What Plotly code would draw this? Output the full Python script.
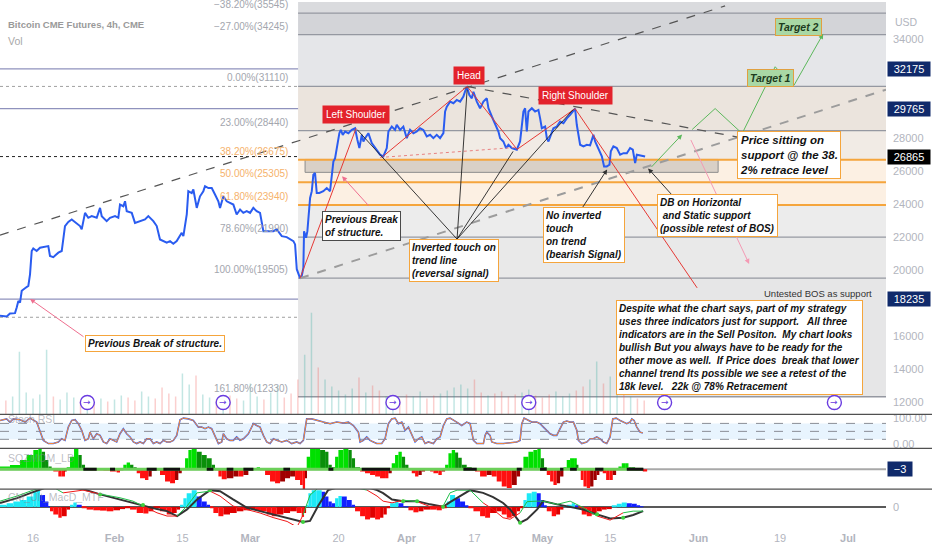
import numpy as np
import plotly.graph_objects as go

BASE = "2023-01-16"


def bday(d):
    """trading-day index (business days since 2023-01-16)"""
    return float(np.busday_count(BASE, d))


# ---------------------------------------------------------------- data
tick_dates = ["2023-01-16", "2023-02-01", "2023-02-15", "2023-03-01", "2023-03-20", "2023-04-03",
              "2023-04-17", "2023-05-01", "2023-05-15", "2023-06-01", "2023-06-19", "2023-07-03"]
tick_labels = ["16", "<b>Feb</b>", "15", "<b>Mar</b>", "20", "<b>Apr</b>", "17", "<b>May</b>", "15",
               "<b>Jun</b>", "19", "<b>Jul</b>"]
rollover_dates = ["2023-01-26", "2023-02-23", "2023-03-30", "2023-04-27", "2023-05-25", "2023-06-29"]

# price (x = trading days since 2023-01-16, 4h closes)
price_t = [-4.86, -3.87, -3.39, -2.65, -2.40, -2.16, -1.91, -1.66, -1.18, -0.69,
           -0.44, -0.19, 0.04, 0.54, 1.03, 1.77, 2.25, 2.50, 2.99, 3.73,
           4.23, 4.71, 5.20, 5.70, 6.44, 6.92, 7.17, 7.66, 8.14, 8.64,
           9.38, 9.87, 10.12, 10.85, 11.34, 12.08, 12.56, 12.81, 13.30, 13.55,
           13.80, 14.54, 15.02, 15.76, 16.49, 16.98, 17.72, 18.22, 18.70, 19.69,
           20.18, 20.66, 21.16, 21.90, 22.14, 22.64, 22.87, 23.37, 23.61, 24.11,
           24.59, 25.08, 25.33, 25.82, 26.32, 26.80, 27.29, 27.54, 28.03, 28.53,
           29.01, 29.50, 29.99, 30.49, 30.97, 31.47, 31.96, 32.44, 32.94, 33.43,
           33.92, 34.42, 35.39, 35.89, 36.63, 37.36, 38.34, 38.59, 38.84, 39.32,
           39.57, 39.81, 39.91, 40.21, 40.40, 40.80, 41.05, 41.28, 41.53, 41.78,
           42.16, 42.75, 43.25, 43.74, 43.99, 44.23, 44.48, 44.73, 45.11, 45.32,
           45.61, 45.95, 46.44, 46.94, 47.42, 47.76, 48.06, 48.41, 48.65, 48.90,
           49.38, 49.88, 50.37, 51.10, 51.59, 52.09, 52.33, 52.83, 53.31, 53.56,
           54.05, 54.53, 55.03, 55.52, 56.01, 56.51, 56.99, 57.48, 57.98, 58.47,
           58.95, 59.45, 59.94, 60.43, 60.68, 60.93, 61.41, 61.90, 62.40, 62.89,
           63.37, 63.87, 64.25, 64.61, 64.85, 65.35, 65.83, 66.32, 66.82, 67.06,
           67.56, 68.04, 68.53, 68.78, 69.26, 69.66, 70.00, 70.50, 71.24, 71.72,
           71.97, 72.21, 72.46, 72.71, 72.95, 73.45, 73.93, 74.42, 74.67, 74.92,
           75.41, 75.66, 75.90, 76.14, 76.63, 77.13, 77.61, 78.10, 78.60, 79.09,
           79.57, 79.82, 80.07, 80.31, 80.56, 81.05, 81.55, 82.03, 82.52, 82.77,
           83.26, 83.76, 84.09, 84.49, 84.88, 85.08, 85.46, 85.96, 86.45, 86.94,
           87.44, 87.92, 88.32, 88.66, 88.91, 89.40, 89.88, 90.13]
price_close = [17230, 17190, 17370, 17390, 17730, 18130, 18030, 18740, 18900, 19040,
               19740, 21150, 21310, 21150, 21350, 21390, 21450, 20850, 20780, 21050,
               21150, 22660, 22910, 23060, 22850, 22660, 22460, 23460, 23160, 23260,
               23160, 23760, 23260, 22960, 23160, 23260, 23160, 23960, 23860, 24160,
               23560, 23460, 22850, 22960, 23060, 23260, 22960, 22660, 21850, 21650,
               21750, 21590, 21750, 22250, 22050, 23360, 24770, 24660, 24870, 23760,
               24460, 24770, 25070, 24960, 24960, 24570, 24160, 23760, 24460, 24160,
               24060, 23960, 23360, 23660, 23460, 23560, 23460, 23760, 23560, 23460,
               22350, 22350, 22350, 22460, 22050, 21990, 21750, 21550, 20050, 19505,
               19640, 20140, 22350, 21950, 22350, 24360, 24770, 25770, 25870, 24660,
               24660, 24770, 24960, 24770, 25570, 26570, 26770, 27380, 28280, 28480,
               28180, 28380, 28280, 28480, 28580, 27880, 27380, 28180, 27780, 27980,
               28280, 27680, 27380, 26980, 26880, 27380, 28380, 28680, 28480, 28790,
               28480, 28680, 27980, 28480, 28280, 28380, 28580, 28480, 28080, 28180,
               27980, 28180, 27980, 28280, 29590, 29890, 30190, 30090, 30290, 30190,
               30490, 31110, 30590, 30390, 30790, 30190, 29790, 30190, 30390, 29790,
               29290, 28790, 28380, 27980, 27780, 27380, 27580, 27380, 27280, 27780,
               28580, 29590, 29790, 28380, 29590, 29790, 29590, 29690, 29180, 28580,
               28680, 27980, 27780, 28080, 28580, 28680, 28980, 28880, 29180, 29390,
               29690, 29765, 28790, 28180, 27580, 27480, 27580, 27540, 28180, 27780,
               27380, 26880, 26270, 26270, 26370, 27180, 27480, 27380, 26980, 27070,
               27070, 27380, 27280, 26470, 26980, 26930, 26880, 26865]
last_price = 26865

# volume (one bar per trading day, relative units)
vol_t = list(range(-4, 91))
vol_v = [14, 18, 63, 22, 16, 20, 65, 18, 15, 22, 17, 14, 19, 11, 16, 13, 15, 19, 17, 14,
         23, 18, 16, 27, 21, 18, 41, 30, 39, 20, 17, 15, 18, 19, 16, 14, 31, 18, 15, 22,
         29, 17, 21, 35, 60, 102, 47, 35, 28, 24, 20, 26, 37, 22, 29, 24, 18, 17, 15, 20,
         18, 23, 16, 19, 21, 24, 27, 30, 26, 35, 22, 19, 21, 23, 18, 20, 22, 25, 19, 17,
         20, 23, 18, 21, 24, 28, 35, 53, 31, 38, 43, 25, 18, 16, 14]

# Fibonacci retracement (high 31110 / low 19505)
fib_ratios = [-0.382, -0.27, 0.0, 0.23, 0.382, 0.5, 0.618, 0.786, 1.0, 1.618]
fib_prices = [35545, 34245, 31110, 28440, 26675, 25305, 23940, 21990, 19505, 12330]
fib_orange = [False, False, False, False, True, True, True, False, False, False]
fib_fill = ["#d3d4d8", "#e5e6e9", "#ebe4dd", "#f1ebe5", "#fcf0e3", "#fcf0e3",
            "#ececec", "#e9e9e9", "#e6e6e7"]
fib_start_t = 39.03

key_levels = [32175, 29765, 18235]          # solid horizontal lines
dotted_levels = [31110, 17140]
axis_ticks = [34000, 28000, 26000, 24000, 22000, 20000, 16000, 14000, 12000]

support_zone = dict(t0=40.06, t1=100.88, p0=25910, p1=26690)

# drawings (trading-day index, price)
pattern_a = [(39.32, 19505), (47.57, 28580)]
pattern_b = [(51.55, 26880), (63.92, 31110), (71.28, 27300), (79.82, 29765), (97.79, 18920)]
pointer_from = (62.44, 21870)
pointer_to = [(47.72, 28500), (63.92, 30910), (70.69, 27180), (79.53, 29710)]
upper_dash = [(-4.86, 22110), (101.91, 35980)]
channel_dash = [(39.32, 19505), (125.6, 30910)]
neck_dash = [(63.92, 31110), (104.86, 27960)]
red_dotted = [(51.10, 26810), (71.13, 27420)]
green_path = [(97.05, 28500), (100.44, 29770), (104.42, 28260), (109.28, 32300), (111.93, 31090)]
arrows = [  # tail_t, tail_p, head_t, head_p, colour
    (7.66, 15900, -0.44, 18250, "#ef6f8f"),
    (49.63, 23800, 45.51, 25670, "#ef6f8f"),
    (96.76, 27960, 105.45, 20370, "#f49ab4"),
    (80.56, 23560, 84.54, 26090, "#333333"),
    (94.26, 24460, 90.57, 26150, "#333333"),
    (90.87, 26150, 95.58, 28200, "#5cb85c"),
    (111.93, 31090, 116.35, 34290, "#5cb85c"),
]

# Stoch RSI (t, value)
stoch_pts = [(-4.86, 91), (-3.88, 97), (-3.39, 85), (-2.90, 97), (-1.91, 94), (-1.18, 85), (-0.44, 100),
             (0.05, 94), (0.54, 85), (1.52, 16), (2.26, 4), (2.99, 4), (3.73, 10), (4.22, 22), (4.71, 16),
             (5.20, 66), (5.70, 91), (6.19, 94), (6.68, 79), (7.17, 54), (7.66, 16), (8.15, 22), (8.39, 47),
             (8.89, 22), (9.38, 41), (9.87, 35), (10.36, 10), (10.85, 4), (11.34, 22), (11.83, 16),
             (12.32, 10), (12.81, 41), (13.30, 60), (13.79, 41), (14.29, 29), (14.78, 10), (15.27, 4),
             (15.76, 10), (16.25, 4), (16.74, 22), (17.23, 22), (17.72, 4), (18.21, 10), (18.70, 4),
             (19.20, 16), (19.69, 10), (20.18, 10), (20.67, 16), (21.16, 35), (21.65, 94), (22.14, 100),
             (22.88, 97), (23.61, 91), (24.35, 66), (24.84, 66), (25.33, 60), (25.82, 66), (26.31, 60),
             (26.80, 29), (27.30, 4), (27.79, 10), (28.03, 41), (28.52, 22), (29.01, 16), (29.50, 16),
             (29.99, 29), (30.49, 16), (30.98, 22), (31.71, 41), (32.45, 79), (32.94, 72), (33.43, 66),
             (33.92, 35), (34.41, 10), (34.90, 4), (35.40, 22), (35.89, 16), (36.62, 10), (37.36, 16),
             (38.10, 4), (38.83, 10), (39.32, 4), (39.81, 16), (40.30, 97), (41.04, 97), (41.78, 91),
             (42.76, 85), (43.74, 79), (44.72, 85), (45.70, 81), (46.44, 85), (47.18, 72), (47.91, 47),
             (48.16, 10), (48.65, 16), (49.14, 29), (49.63, 16), (50.12, 10), (50.61, 4), (51.35, 4),
             (51.84, 22), (52.33, 79), (52.82, 97), (53.31, 100), (53.81, 79), (54.30, 85), (54.79, 54),
             (55.28, 66), (55.77, 41), (56.26, 10), (56.75, 22), (57.24, 29), (57.73, 4), (58.22, 10),
             (58.96, 4), (59.45, 22), (59.94, 29), (60.43, 72), (60.92, 97), (61.41, 100), (62.39, 85),
             (63.13, 72), (63.86, 85), (64.36, 79), (64.85, 16), (65.34, 4), (66.32, 4), (66.57, 35),
             (66.81, 47), (67.30, 35), (67.55, 10), (68.28, 4), (69.27, 4), (70.25, 6), (71.23, 10),
             (71.72, 16), (71.97, 79), (72.31, 100), (72.70, 94), (73.44, 85), (74.17, 85), (74.66, 79),
             (75.16, 66), (75.65, 54), (76.14, 41), (76.63, 35), (77.12, 35), (77.61, 60), (78.10, 85),
             (78.59, 89), (79.08, 85), (79.57, 85), (80.07, 54), (80.31, 16), (80.80, 4), (81.54, 10),
             (82.03, 22), (82.52, 22), (83.01, 29), (83.50, 22), (83.99, 10), (84.48, 4), (84.97, 29),
             (85.37, 97), (85.86, 100), (86.45, 91), (86.94, 85), (87.43, 79), (87.92, 85), (88.17, 97),
             (88.51, 91), (88.90, 66), (89.39, 47), (89.79, 44)]

# Squeeze momentum histogram (t, value)
sqz_pts = [(-4.86, 13), (-3.39, 20), (-1.91, 44), (-0.93, 68), (0.05, 92), (0.79, 100), (1.28, 84),
           (1.77, 44), (2.26, 13), (2.75, 1), (2.99, -11), (3.73, -35), (4.22, -35), (4.71, -11),
           (4.96, 5), (5.45, 60), (6.04, 100), (6.68, 68), (7.17, 21), (7.66, 1), (8.39, -1), (9.38, -3),
           (10.36, -6), (11.34, -11), (12.32, -16), (12.81, -3), (13.30, 21), (13.79, 32), (14.29, 21),
           (14.78, 5), (15.27, -19), (15.76, -43), (16.49, -51), (16.99, -35), (17.48, -6), (17.97, -3),
           (18.70, -27), (19.44, -59), (20.18, -67), (20.91, -51), (21.40, -19), (21.90, 2), (22.39, 52),
           (22.88, 92), (23.37, 100), (24.10, 84), (24.84, 68), (25.58, 52), (26.31, 21), (26.80, -2),
           (27.30, -35), (27.79, -48), (28.52, -43), (29.50, -35), (30.24, -35), (30.98, -27),
           (31.71, -6), (32.45, 2), (32.94, 10), (33.43, -2), (34.17, -27), (34.90, -59), (35.64, -67),
           (36.38, -59), (37.11, -43), (37.85, -35), (38.59, -51), (39.32, -75), (39.72, -95),
           (40.06, -43), (40.30, 60), (40.80, 100), (41.53, 100), (42.27, 92), (43.01, 84), (43.50, 21),
           (43.99, 5), (44.48, 60), (44.97, 92), (45.70, 100), (46.44, 92), (46.93, 52), (47.42, 10),
           (48.16, -11), (48.89, -19), (49.63, -27), (50.37, -35), (51.10, -43), (51.84, -43),
           (52.33, -19), (52.82, 29), (53.31, 68), (53.81, 84), (54.30, 60), (54.79, 21), (55.28, -2),
           (55.77, -19), (56.26, -35), (56.75, -27), (57.24, -11), (57.73, -3), (58.47, -11),
           (58.96, -19), (59.69, -27), (60.19, -11), (60.68, 21), (61.17, 76), (61.66, 92), (62.15, 80),
           (62.60, 55), (63.13, 21), (63.86, 10), (64.60, -2), (65.09, -11), (65.83, -35), (66.81, -27),
           (67.55, -35), (68.28, -59), (69.02, -83), (69.76, -90), (70.49, -75), (71.23, -35),
           (71.72, 3), (72.21, 60), (72.95, 84), (73.68, 92), (74.27, 100), (74.76, 52), (75.25, 10),
           (75.65, -27), (76.14, -59), (76.63, -75), (77.12, -67), (77.61, -35), (78.10, 10),
           (78.59, 44), (79.08, 52), (79.67, 52), (80.07, 21), (80.31, -3), (80.65, -51), (81.05, -83),
           (81.54, -90), (82.03, -83), (82.52, -51), (83.01, -27), (83.40, -11), (83.89, -19),
           (84.39, -51), (84.88, -51), (85.37, -27), (85.86, 2), (86.20, 13), (86.69, 29), (87.19, 29),
           (87.68, 10), (88.17, 5), (88.66, -1), (89.15, -3), (89.79, -11)]
squeeze_on = [(7.41, 9.38), (11.34, 12.08), (16.74, 18.21), (19.20, 21.65), (25.58, 26.56),
              (28.52, 29.50), (30.98, 32.45), (36.87, 37.85), (43.50, 44.23), (48.40, 52.58),
              (63.37, 65.34), (71.23, 71.97), (74.66, 75.65), (77.61, 78.10), (79.08, 80.07),
              (82.77, 83.99), (87.43, 89.88)]

# MACD histogram (t, value)
macd_hist_pts = [(-4.86, 13), (-3.88, 23), (-2.90, 33), (-1.91, 42), (-0.93, 62), (0.05, 90), (0.54, 100),
                 (1.03, 71), (1.77, 33), (2.26, 1), (2.50, -25), (2.99, -44), (3.73, -63), (4.22, -54),
                 (4.96, -15), (5.45, 13), (5.94, 27), (6.43, 13), (7.17, -6), (7.90, -15), (8.89, -19),
                 (9.87, -21), (10.85, -25), (11.83, -19), (12.81, -12), (13.55, -6), (14.29, -15),
                 (15.27, -35), (16.25, -38), (16.99, -25), (17.72, -6), (18.70, -25), (19.69, -44),
                 (20.42, -35), (21.16, -15), (21.65, 13), (22.14, 52), (22.63, 81), (23.37, 100),
                 (24.10, 62), (24.84, 33), (25.58, 13), (26.07, -1), (26.56, -35), (27.30, -54),
                 (28.03, -44), (29.01, -35), (29.99, -25), (30.98, -19), (31.96, -12), (32.70, -19),
                 (33.43, -25), (34.41, -44), (35.15, -54), (35.89, -44), (36.87, -35), (37.85, -25),
                 (38.83, -35), (39.57, -58), (39.91, -35), (40.21, 13), (40.55, 81), (41.04, 100),
                 (41.78, 100), (42.51, 90), (43.01, 62), (43.50, 33), (43.99, 23), (44.48, 52),
                 (44.97, 65), (45.46, 62), (46.20, 42), (46.93, 13), (47.42, -25), (48.16, -54),
                 (48.89, -73), (49.63, -63), (50.37, -73), (51.10, -63), (51.59, -44), (52.09, -6),
                 (52.58, 23), (53.31, 33), (53.81, 23), (54.54, 4), (55.28, -19), (56.01, -31),
                 (56.75, -25), (57.49, -15), (58.47, -15), (59.45, -19), (60.19, -6), (60.92, 33),
                 (61.41, 71), (62.15, 52), (62.88, 33), (63.62, 8), (64.11, -6), (64.85, -25),
                 (65.83, -54), (66.57, -63), (67.30, -35), (68.28, -25), (69.02, -44), (69.76, -63),
                 (70.49, -54), (71.23, -25), (71.72, -6), (72.21, 42), (72.70, 81), (73.44, 90),
                 (74.17, 81), (74.76, 42), (75.25, 8), (75.65, -25), (76.38, -54), (77.02, -44),
                 (77.61, -15), (78.10, 4), (78.59, 13), (79.33, 23), (79.82, 8), (80.31, -6),
                 (80.80, -44), (81.54, -54), (82.27, -44), (83.01, -25), (83.75, -15), (84.48, -12),
                 (85.22, 8), (85.96, 19), (86.69, 27), (87.43, 23), (88.17, 19), (88.90, 8), (89.39, 1)]

# MACD lines on a common grid
macd_t = [-4.86, -2.36, 0.0, 2.50, 4.42, 7.36, 9.87, 12.81, 14.73, 16.20, 18.26, 19.73, 21.21, 22.68,
          24.15, 26.07, 27.54, 29.46, 31.52, 33.43, 35.35, 37.41, 38.88, 39.76, 40.79, 41.97, 43.45,
          45.95, 49.19, 50.66, 51.55, 52.87, 54.49, 56.55, 58.47, 60.38, 61.41, 62.44, 64.36, 66.27,
          67.75, 69.22, 70.25, 71.72, 72.75, 74.23, 75.11, 77.17, 79.09, 81.00, 83.06, 84.98, 86.89,
          88.37, 89.84]
macd_signal = [24, 53, 88, 124, 124, 106, 75, 44, 24, 12, -12, -24, -53, -14, 45, 100, 94, 45, -4,
               -24, -43, -63, -79, -88, -82, 6, 100, 129, 118, 100, 82, 45, 35, 35, 16, 2, 29, 53, 100,
               84, 59, 24, -14, -92, -72, -14, 35, 16, 2, -14, -43, -67, -63, -47, -24]
macd_fast = [35, 65, 100, 129, 84, 100, 77, 55, 35, 6, -34, -53, -53, 6, 84, 94, 65, 6, -15, -35,
             -62, -85, -118, -47, 71, 112, 129, 129, 100, 65, 35, 25, 41, 32, 3, 6, 84, 100, 100, 25,
             -14, -63, -72, -34, 32, 35, 35, 16, 35, -3, -53, -77, -34, -24, -24]

# ---------------------------------------------------------------- helpers
XMIN, XMAX = -4.86, 125.6
P_TOP, P_BOT = 36218, 11262
H = 525.0


def pdom(px_top, px_bot):
    return [1 - px_bot / H, 1 - px_top / H]


FONT = "Liberation Sans"
BOX_FONT = dict(family=FONT, size=10, color="#111111", weight="bold", style="italic")

fig = go.Figure()
shapes = []
ann = []

# fib background bands
bounds = [P_TOP] + fib_prices
fills = ["#dadbde"] + fib_fill
for i in range(len(bounds) - 1):
    shapes.append(dict(type="rect", xref="x", yref="y", x0=fib_start_t, x1=XMAX,
                       y0=bounds[i + 1], y1=bounds[i], fillcolor=fills[i], line_width=0, layer="below"))

# support zone rectangle
shapes.append(dict(type="rect", xref="x", yref="y", x0=support_zone["t0"], x1=support_zone["t1"],
                   y0=support_zone["p0"], y1=support_zone["p1"], fillcolor="#d9d0c7",
                   line=dict(color="#8d8d8d", width=1), layer="below"))

# fib lines + labels
for r, p, o in zip(fib_ratios, fib_prices, fib_orange):
    col = "#f5a53c" if o else "#9598a1"
    shapes.append(dict(type="line", xref="x", yref="y", x0=fib_start_t, x1=XMAX, y0=p, y1=p,
                       line=dict(color=col, width=2 if o else 1.3), layer="below"))
    lab = f"{r * 100:.2f}%({p})".replace("-", "\u2212")
    ann.append(dict(x=fib_start_t, y=p, xref="x", yref="y", text=lab, showarrow=False,
                    xanchor="right", yanchor="bottom", xshift=-8, yshift=1,
                    font=dict(family=FONT, size=10, color="#f6b26b" if o else "#a3a6ae")))

# horizontal key levels
for p in key_levels:
    shapes.append(dict(type="line", xref="paper", yref="y", x0=0, x1=1, y0=p, y1=p,
                       line=dict(color="#8f92bd", width=1.3), layer="below"))
for p in dotted_levels:
    shapes.append(dict(type="line", xref="paper", yref="y", x0=0, x1=1, y0=p, y1=p,
                       line=dict(color="#a0a0a0", width=1, dash="dot"), layer="below"))
shapes.append(dict(type="line", xref="paper", yref="y", x0=0, x1=1, y0=last_price, y1=last_price,
                   line=dict(color="#222222", width=1, dash="dot"), layer="below"))

# volume (faint, bottom of main pane)
vol_up = []
for t in vol_t:
    a = np.interp(t, price_t, price_close)
    b = np.interp(t - 1, price_t, price_close)
    vol_up.append(a >= b)
fig.add_trace(go.Bar(x=vol_t, y=vol_v, width=0.22,
                     marker=dict(color=["rgba(38,166,154,0.28)" if u else "rgba(239,83,80,0.28)" for u in vol_up],
                                 line_width=0), hoverinfo="skip", xaxis="x", yaxis="y5"))

# price
fig.add_trace(go.Scatter(x=price_t, y=price_close, mode="lines", line=dict(color="#2a5cf0", width=2),
                         hoverinfo="skip", xaxis="x", yaxis="y"))


def seg(pts):
    return [p[0] for p in pts], [p[1] for p in pts]


def line_trace(pts, color, width=1, dash=None):
    xs, ys = seg(pts)
    fig.add_trace(go.Scatter(x=xs, y=ys, mode="lines", hoverinfo="skip",
                             line=dict(color=color, width=width, dash=dash), xaxis="x", yaxis="y"))


line_trace(upper_dash, "#555555", 1.2, "dash")
line_trace(channel_dash, "#9c9c9c", 2, "dash")
line_trace(neck_dash, "#555555", 1.2, "dash")
line_trace(red_dotted, "#e88080", 1, "dot")
line_trace(pattern_a, "#e53935", 1)
line_trace(pattern_b, "#e53935", 1)
for tgt in pointer_to:
    line_trace([pointer_from, tgt], "#222222", 0.9)
line_trace(green_path, "#5cb85c", 1)

for t0, p0, t1, p1, c in arrows:
    ann.append(dict(x=t1, y=p1, ax=t0, ay=p0, xref="x", yref="y", axref="x", ayref="y", text="",
                    showarrow=True, arrowhead=2, arrowsize=1, arrowwidth=1, arrowcolor=c))

# text boxes (t, price, text, border, background, align, font size)
boxes = [
    (17.97, 15573, "Previous Break of structure.", "#f5a53c", "white", "center", 10),
    (48.31, 22655, "Previous Break<br>of structure.", "#4a4a4a", "white", "left", 10),
    (61.93, 20605, "Inverted touch on<br>trend line<br>(reversal signal)", "#f5a53c", "white", "left", 10),
    (81.07, 22143, "No inverted<br>touch<br>on trend<br>(bearish Signal)", "#f5a53c", "white", "left", 10),
    (100.74, 23318, "DB on Horizontal<br> and Static support<br>(possible retest of BOS)", "#f5a53c", "white", "left", 10),
    (111.34, 26935, "Price sitting on<br>support @ the 38.<br>2% retrace level", "#f5a53c", "white", "left", 11.5),
    (108.54, 31607, "Target 1", "#e0a040", "#a9d8a5", "center", 10.5),
    (112.67, 34711, "Target 2", "#e0a040", "#a9d8a5", "center", 10.5),
    (104.05, 15301, "Despite what the chart says, part of my strategy<br>uses three indicators just for support.   All three"
                    "<br>indicators are in the Sell Positon.  My chart looks<br>bullish But you always have to be ready for the"
                    "<br>other move as well.  If Price does  break that lower<br>channel trend Its possible we see a retest of the"
                    "<br>18k level.   22k @ 78% Retracement", "#f5a53c", "white", "left", 10),
]
for t, p, txt, bc, bg, al, fs in boxes:
    f = dict(BOX_FONT)
    f["size"] = fs
    if bg != "white":
        f["color"] = "#1d3b1d"
    ann.append(dict(x=t, y=p, xref="x", yref="y", text=txt, showarrow=False, align=al,
                    bgcolor=bg, bordercolor=bc, borderwidth=1, borderpad=2, font=f))

ann.append(dict(x=123.86, y=18556, xref="x", yref="y", text="Untested BOS as support", showarrow=False,
                xanchor="right", font=dict(family=FONT, size=9.5, color="#333333")))

for t, p, txt in [(47.50, 29437, "Left Shoulder"), (64.14, 31787, "Head"), (79.82, 30582, "Right Shoulder")]:
    ann.append(dict(x=t, y=p, xref="x", yref="y", text=txt, showarrow=False, bgcolor="#e3222b",
                    borderpad=3, font=dict(family=FONT, size=10, color="white")))

# rollover markers
for d in rollover_dates:
    t = bday(d)
    shapes.append(dict(type="circle", xref="x", yref="y", xsizemode="pixel", ysizemode="pixel",
                       xanchor=t, yanchor=11985, x0=-7, x1=7, y0=-7, y1=7,
                       line=dict(color="#6a3ce0", width=1.4), fillcolor="white"))
    ann.append(dict(x=t, y=11985, xref="x", yref="y", text="\u2192", showarrow=False,
                    font=dict(family="DejaVu Sans", size=9, color="#6a3ce0")))

# ---------------- lower panes
# stoch rsi
shapes.append(dict(type="rect", xref="paper", yref="y2", x0=0, x1=1, y0=20, y1=80,
                   fillcolor="rgba(33,150,243,0.10)", line_width=0, layer="below"))
for lv in (80, 50, 20):
    shapes.append(dict(type="line", xref="paper", yref="y2", x0=0, x1=1, y0=lv, y1=lv,
                       line=dict(color="#8a8d96", width=1, dash="dash"), layer="below"))
st_t, st_v = seg(stoch_pts)
fig.add_trace(go.Scatter(x=st_t, y=st_v, mode="lines", line=dict(color="#2962ff", width=1.6),
                         hoverinfo="skip", xaxis="x", yaxis="y2"))
fig.add_trace(go.Scatter(x=st_t, y=st_v, mode="lines", line=dict(color="#ff8a30", width=1),
                         hoverinfo="skip", xaxis="x", yaxis="y2"))


def hist_colors(v, up_pos, dn_pos, dn_neg, up_neg):
    cols = []
    for i, val in enumerate(v):
        prev = v[i - 1] if i > 0 else val
        if val >= 0:
            cols.append(up_pos if val >= prev else dn_pos)
        else:
            cols.append(dn_neg if val <= prev else up_neg)
    return cols


def widths(t):
    d = np.diff(t)
    return list(d) + [d[-1]]


# squeeze momentum
sq_t, sq_v = seg(sqz_pts)
shapes.append(dict(type="line", xref="paper", yref="y3", x0=0, x1=1, y0=0, y1=0,
                   line=dict(color="#a8a8a8", width=2), layer="below"))
fig.add_trace(go.Bar(x=sq_t, y=sq_v, width=widths(sq_t), offset=0,
                     marker=dict(color=hist_colors(sq_v, "#00e000", "#0a8f0a", "#ff1010", "#a00000"),
                                 line_width=0), hoverinfo="skip", xaxis="x", yaxis="y3"))
fig.add_trace(go.Scatter(x=[sq_t[0], sq_t[-1]], y=[0, 0], mode="lines", line=dict(color="#6ccf5a", width=3),
                         hoverinfo="skip", xaxis="x", yaxis="y3"))
for a, b in squeeze_on:
    fig.add_trace(go.Scatter(x=[a, b], y=[0, 0], mode="lines", line=dict(color="#111111", width=3),
                             hoverinfo="skip", xaxis="x", yaxis="y3"))

# macd
shapes.append(dict(type="line", xref="paper", yref="y4", x0=0, x1=1, y0=0, y1=0,
                   line=dict(color="#222222", width=1.5), layer="below"))
mh_t, mh_v = seg(macd_hist_pts)
fig.add_trace(go.Bar(x=mh_t, y=mh_v, width=widths(mh_t), offset=0,
                     marker=dict(color=hist_colors(mh_v, "#1de9f6", "#1020ff", "#ff1010", "#e00000"),
                                 line_width=0), hoverinfo="skip", xaxis="x", yaxis="y4"))
fig.add_trace(go.Scatter(x=macd_t, y=macd_signal, mode="lines", line=dict(color="#333333", width=2),
                         hoverinfo="skip", xaxis="x", yaxis="y4"))
for i in range(len(macd_t) - 1):
    col = "#22c04a" if macd_fast[i] >= macd_signal[i] else "#f01818"
    fig.add_trace(go.Scatter(x=macd_t[i:i + 2], y=macd_fast[i:i + 2], mode="lines",
                             line=dict(color=col, width=1), hoverinfo="skip", xaxis="x", yaxis="y4"))
cross_t, cross_v = [], []
for i in range(1, len(macd_t)):
    if (macd_fast[i] - macd_signal[i]) * (macd_fast[i - 1] - macd_signal[i - 1]) < 0:
        cross_t.append(macd_t[i])
        cross_v.append(macd_signal[i])
fig.add_trace(go.Scatter(x=cross_t, y=cross_v, mode="markers", marker=dict(color="#3fd13f", size=4),
                         hoverinfo="skip", xaxis="x", yaxis="y4"))

# pane separators
for py in (414, 448, 489):
    shapes.append(dict(type="line", xref="paper", yref="paper", x0=0, x1=932 / 886, y0=1 - py / H,
                       y1=1 - py / H, line=dict(color="#505050", width=1.2)))

# pane titles
ann.append(dict(x=0.007, y=1 - 15 / H, xref="paper", yref="paper", text="Bitcoin CME Futures, 4h, CME",
                showarrow=False, xanchor="left", font=dict(family=FONT, size=9.5, color="#9a9a9a", weight="bold")))
ann.append(dict(x=0.007, y=1 - 31 / H, xref="paper", yref="paper", text="Vol", showarrow=False,
                xanchor="left", font=dict(family=FONT, size=10.5, color="#a8a8a8")))
for py, txt in [(427, "Stoch RSI"), (466, "SQZMOM_LB"), (505, "CM_Ult_MacD_MTF")]:
    ann.append(dict(x=0.007, y=1 - py / H, xref="paper", yref="paper", text=txt, showarrow=False,
                    xanchor="left", font=dict(family=FONT, size=10.5, color="rgba(130,133,144,0.55)")))

# right scale labels
ann.append(dict(x=1, y=1 - 12 / H, xref="paper", yref="paper", text="USD", showarrow=False, xanchor="left",
                xshift=7, font=dict(family=FONT, size=10.5, color="#b2b5be")))
for p, bg in [(32175, "#102a6b"), (29765, "#102a6b"), (18235, "#102a6b"), (last_price, "#000000")]:
    ann.append(dict(x=1, y=p, xref="paper", yref="y", text=str(p), showarrow=False, xanchor="left",
                    xshift=1, width=40, height=12, bgcolor=bg, borderpad=1,
                    font=dict(family=FONT, size=11, color="white")))
ann.append(dict(x=1, y=0, xref="paper", yref="y3", text="\u22123", showarrow=False, xanchor="left",
                xshift=1, width=22, height=12, bgcolor="#102a6b", borderpad=1,
                font=dict(family=FONT, size=11, color="white")))

tick_font = dict(family=FONT, size=11, color="#b2b5be")
fig.update_layout(
    width=932, height=550, margin=dict(l=0, r=46, t=0, b=25),
    paper_bgcolor="white", plot_bgcolor="white", showlegend=False, barmode="overlay",
    shapes=shapes, annotations=ann,
    xaxis=dict(domain=[0, 1], range=[XMIN, XMAX], anchor="y4", tickvals=[bday(d) for d in tick_dates],
               ticktext=tick_labels, showgrid=False, zeroline=False, showline=False, ticks="",
               tickfont=tick_font, ticklabelstandoff=5),
    yaxis=dict(domain=pdom(0, 414), range=[P_BOT, P_TOP], side="right", anchor="x", tickvals=axis_ticks,
               ticktext=[str(v) for v in axis_ticks],
               showgrid=False, zeroline=False, ticks="", tickfont=tick_font, ticklabelstandoff=6),
    yaxis5=dict(domain=pdom(0, 414), range=[0, 414], overlaying="y", anchor="x", visible=False),
    yaxis2=dict(domain=pdom(414, 448), range=[-13.9, 113.9], side="right", anchor="x", tickvals=[0, 100],
                ticktext=["0.00", "100.00"], showgrid=False, zeroline=False, ticks="", tickfont=tick_font,
                ticklabelstandoff=6),
    yaxis3=dict(domain=pdom(448, 489), range=[-95, 100], side="right", anchor="x", showticklabels=False,
                showgrid=False, zeroline=False),
    yaxis4=dict(domain=pdom(489, 525), range=[-106, 106], side="right", anchor="x", tickvals=[0],
                ticktext=["0"], showgrid=False, zeroline=False, ticks="", tickfont=tick_font,
                ticklabelstandoff=6),
)

fig.write_html("out.html", config={"displayModeBar": False})
with open("out.html", encoding="utf-8") as fh:
    html = fh.read()
html = html.replace("<head>", "<head><style>html,body{margin:0;padding:0;overflow:hidden;}</style>", 1)
with open("out.html", "w", encoding="utf-8") as fh:
    fh.write(html)
